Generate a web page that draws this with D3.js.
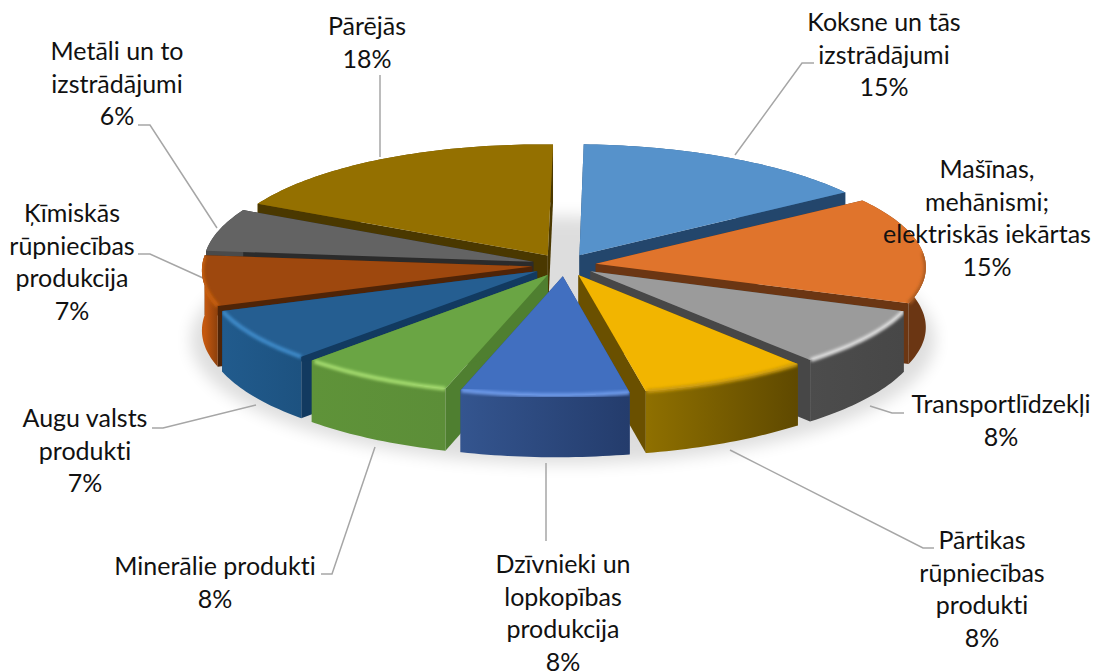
<!DOCTYPE html>
<html>
<head>
<meta charset="utf-8">
<style>
  html, body { margin: 0; padding: 0; background: #fff; }
  svg { display: block; }
  text { font-family: Lato, "Noto Sans", sans-serif; font-size: 25px; fill: #111; font-variant-ligatures: none; }
</style>
</head>
<body>
<div id="canvas"></div>
<script src="https://cdn.jsdelivr.net/npm/d3@7"></script>
<script>
"use strict";

// Data
let categories = [
  ["Koksne un tās", "izstrādājumi"],
  ["Mašīnas,", "mehānismi;", "elektriskās iekārtas"],
  ["Transportlīdzekļi"],
  ["Pārtikas", "rūpniecības", "produkti"],
  ["Dzīvnieki un", "lopkopības", "produkcija"],
  ["Minerālie produkti"],
  ["Augu valsts", "produkti"],
  ["Ķīmiskās", "rūpniecības", "produkcija"],
  ["Metāli un to", "izstrādājumi"],
  ["Pārējās"]
];
let shares = [15, 15, 8, 8, 8, 7.5, 7.4, 7.1, 6, 18]; // labels show these rounded

// Canvas setup
let svgWidth = 1094;
let svgHeight = 671;

// Colours per slice: top face, cut faces, outer wall left/right, rim highlight
let topColors  = ["#5692cb", "#e0742c", "#9b9b9b", "#f2b500", "#416fc0", "#6aa544", "#255e91", "#9e480e", "#636363", "#947000"];
let cutColors  = ["#23466c", "#6b3613", "#474747", "#6a5000", "#2b4680", "#4f7f30", "#123a60", "#4f2407", "#2b2b2b", "#4a3800"];
let wallLeft   = ["#2f5f8c", "#8a4514", "#4c4c4c", "#8f7000", "#34558f", "#5f9339", "#215b8d", "#c4580f", "#4a4a4a", "#6f5400"];
let wallRight  = ["#2f5f8c", "#6b3613", "#474747", "#5f4900", "#243c6c", "#5c8e38", "#1d5280", "#8d400c", "#4a4a4a", "#6f5400"];
let rimColors  = ["#7fb2e0", "#a85a20", "#e0e0e0", "#c99a10", "#6f9bea", "#a6dd70", "#3f8ccb", "#c9600f", "#8a8a8a", "#b08a10"];

// Label placement: centre x and first baseline, then the leader polyline
let labelPos = [
  [884, 31], [987, 178], [1001, 413], [982, 549], [563, 573],
  [215, 575], [85, 427], [72, 222], [117, 60], [367, 35]
];
let leaders = [
  [[735, 155], [802, 63], [814, 63]],
  [],
  [[870, 406], [892, 413], [904, 413]],
  [[730, 450], [923, 548], [934, 548]],
  [[546, 463], [546, 541]],
  [[375, 447], [332, 574], [321, 574]],
  [[256, 405], [163, 428], [152, 428]],
  [[203, 278], [150, 254], [138, 254]],
  [[217, 228], [150, 125], [138, 125]],
  [[380, 157], [380, 75]]
];
let lineStep = 32.6;

// Pie geometry
let rotation = 2 * Math.PI / 180;   // first slice starts slightly right of twelve o'clock
let explode = 0.097;                // slice pull-out, in radius units
let perspective = 0.03;             // front of the disc looks a bit larger
let bend = 5.5;                     // back and front rim sit a few px left of the sides
let depth = 60;                     // wall height in px

let xScale = d3.scaleLinear().domain([-1, 1]).range([564 - 330, 564 + 330]);
let yScale = d3.scaleLinear().domain([-1, 1]).range([265 - 115, 265 + 115]); // -1 = back, 1 = front

let pie = d3.pie().sort(null).startAngle(rotation).endAngle(rotation + 2 * Math.PI);
let slices = pie(shares).map(function(d, i) {
  d.index = i;
  d.mid = (d.startAngle + d.endAngle) / 2;
  return d;
});

// Model point on a slice to screen px; a = clockwise from the back, r = radius, h = drop
function project(d, a, r, h) {
  let mx = explode * Math.sin(d.mid) + r * Math.sin(a);
  let mz = -explode * Math.cos(d.mid) - r * Math.cos(a);
  let s = 1 + perspective * mz;
  return [xScale(mx * s) - bend * mz * mz, yScale(mz * s) + h * s];
}

function rimPoints(d, r, h) {
  let steps = d3.range(d.startAngle, d.endAngle, 0.02).concat([d.endAngle]);
  return steps.map(function(a) { return project(d, a, r, h); });
}

let polygon = d3.line().curve(d3.curveLinearClosed);
let polyline = d3.line();

// SVG container
let svg = d3.select("#canvas")
  .append("svg")
  .attr("width", svgWidth)
  .attr("height", svgHeight);

let defs = svg.append("defs");
defs.append("filter").attr("id", "shadowBlur")
  .attr("x", "-20%").attr("y", "-30%").attr("width", "140%").attr("height", "160%")
  .append("feGaussianBlur").attr("stdDeviation", 8);
defs.append("filter").attr("id", "rimBlur")
  .attr("x", "-20%").attr("y", "-20%").attr("width", "140%").attr("height", "140%")
  .append("feGaussianBlur").attr("stdDeviation", 1.6);

// Soft shadow under the pie
svg.append("ellipse")
  .attr("cx", 563).attr("cy", 340)
  .attr("rx", 372).attr("ry", 124)
  .attr("fill", "#000")
  .attr("opacity", 0.13)
  .attr("filter", "url(#shadowBlur)");

// Leader lines
svg.append("g").selectAll("path")
  .data(leaders.filter(function(l) { return l.length > 0; }))
  .enter()
  .append("path")
  .attr("d", function(l) { return polyline(l); })
  .attr("fill", "none")
  .attr("stroke", "#a6a6a6")
  .attr("stroke-width", 1.5);

// Slices, back to front
let order = slices.slice().sort(function(a, b) {
  return -Math.cos(a.mid) + Math.cos(b.mid);
});

let pieGroup = svg.append("g");
order.forEach(function(d) {
  let i = d.index;
  let g = pieGroup.append("g");
  let apexTop = project(d, 0, 0, 0);
  let apexLow = project(d, 0, 0, depth);
  let rimTop = rimPoints(d, 1, 0);
  let rimLow = rimPoints(d, 1, depth);
  let first = rimTop[0];
  let last = rimTop[rimTop.length - 1];
  let isFront = -Math.cos(d.mid) > -0.3;

  // wall gradient runs left to right across the slice
  let gradId = "wall" + i;
  let grad = defs.append("linearGradient")
    .attr("id", gradId)
    .attr("gradientUnits", "userSpaceOnUse")
    .attr("x1", Math.min(first[0], last[0])).attr("y1", 0)
    .attr("x2", Math.max(first[0], last[0])).attr("y2", 0);
  grad.append("stop").attr("offset", "0%").attr("stop-color", wallLeft[i]);
  grad.append("stop").attr("offset", "100%").attr("stop-color", wallRight[i]);

  let wallShape = polygon(rimTop.concat(rimLow.slice().reverse()));
  function drawWall() {
    g.append("path")
      .attr("d", wallShape)
      .attr("fill", "url(#" + gradId + ")");
  }
  function drawCuts() {
    [[first, rimLow[0]], [last, rimLow[rimLow.length - 1]]].forEach(function(edge) {
      g.append("path")
        .attr("d", polygon([apexTop, edge[0], edge[1], apexLow]))
        .attr("fill", cutColors[i]);
    });
  }

  // back slices show their cut face in front of the wall, front slices the other way
  if (isFront) {
    drawCuts();
    drawWall();
  } else {
    drawWall();
    drawCuts();
  }

  // top face
  let topShape = polygon([apexTop].concat(rimTop));
  g.append("path")
    .attr("d", topShape)
    .attr("fill", topColors[i]);

  // bevel highlight on the front part of the rim, kept inside the slice
  let frontRim = d3.range(d.startAngle, d.endAngle, 0.02)
    .filter(function(a) { return -Math.cos(a) > -0.1; })
    .map(function(a) { return project(d, a, 1, 0); });
  if (frontRim.length > 1) {
    defs.append("clipPath").attr("id", "clip" + i)
      .append("path").attr("d", topShape + wallShape);
    g.append("g")
      .attr("clip-path", "url(#clip" + i + ")")
      .append("path")
      .attr("d", polyline(frontRim))
      .attr("fill", "none")
      .attr("stroke", rimColors[i])
      .attr("stroke-width", 4)
      .attr("filter", "url(#rimBlur)");
  }
});

// Labels
let labels = svg.append("g");
categories.forEach(function(lines, i) {
  let text = labels.append("text")
    .attr("text-anchor", "middle");
  lines.concat([Math.round(shares[i]) + "%"]).forEach(function(line, k) {
    text.append("tspan")
      .attr("x", labelPos[i][0])
      .attr("y", labelPos[i][1] + k * lineStep)
      .text(line);
  });
});
</script>
</body>
</html>
